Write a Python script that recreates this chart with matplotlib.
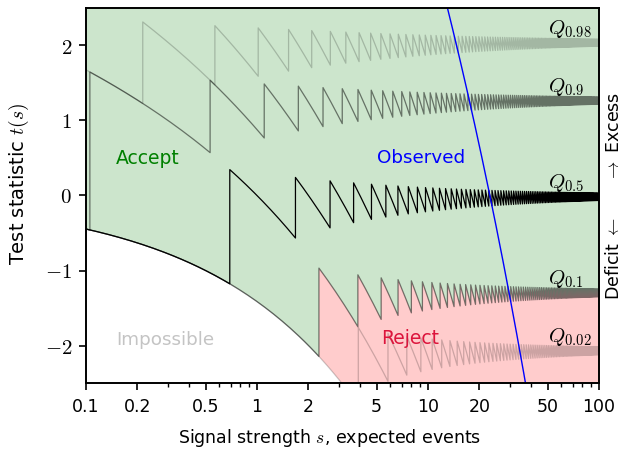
import math
import numpy as np
import matplotlib
matplotlib.use("Agg")
import matplotlib.pyplot as plt

# ---- data ----
quantile_levels = [0.02, 0.1, 0.5, 0.9, 0.98]
quantile_labels = [r"$Q_{0.02}$", r"$Q_{0.1}$", r"$Q_{0.5}$", r"$Q_{0.9}$", r"$Q_{0.98}$"]
quantile_label_y = [-2.054, -1.282, 0.0, 1.282, 2.054]
quantile_alpha = [0.2, 0.5, 1.0, 0.5, 0.2]
n_observed = 23
s_range = [0.1, 100.0]
t_range = [-2.5, 2.5]
x_ticks = [0.1, 0.2, 0.5, 1, 2, 5, 10, 20, 50, 100]
x_tick_labels = ["0.1", "0.2", "0.5", "1", "2", "5", "10", "20", "50", "100"]
y_ticks = [-2, -1, 0, 1, 2]

plt.rcParams["font.family"] = ["DejaVu Sans"]
plt.rcParams["mathtext.fontset"] = "cm"
plt.rcParams["font.size"] = 12


def t_stat(n, s):
    n = np.asarray(n, dtype=float)
    s = np.asarray(s, dtype=float)
    with np.errstate(divide="ignore", invalid="ignore"):
        nlog = np.where(n > 0, n * np.log(np.where(n > 0, n, 1.0) / s), 0.0)
    d = np.maximum(2.0 * (nlog - n + s), 0.0)
    return np.sign(n - s) * np.sqrt(d)


def pois_cdf(n, s):
    n = np.asarray(n)
    s = np.asarray(s, dtype=float)
    term = np.exp(-s)
    cdf = term.copy()
    for k in range(1, int(n.max()) + 1):
        term = term * s / k
        cdf = cdf + np.where(k <= n, term, 0.0)
    return cdf


def jump_points(p, nmax=170):
    n = np.arange(nmax + 1)
    lo = np.full(n.shape, 1e-9)
    hi = np.full(n.shape, 400.0)
    for _ in range(70):
        mid = 0.5 * (lo + hi)
        f = pois_cdf(n, mid)
        above = f >= p
        lo = np.where(above, mid, lo)
        hi = np.where(above, hi, mid)
    return 0.5 * (lo + hi)


def quantile_curve(p):
    sj = jump_points(p)
    bounds = np.concatenate([[0.0], sj])
    xs, ys = [], []
    for n in range(len(sj)):
        a = max(bounds[n], s_range[0])
        b = min(bounds[n + 1], s_range[1])
        if b <= a:
            continue
        m = max(2, int(60 * math.log(b / a) / math.log(10)) + 2)
        ss = np.geomspace(a, b, m)
        xs.append(ss)
        ys.append(t_stat(n, ss))
    return np.concatenate(xs), np.concatenate(ys)


fig = plt.figure(figsize=(6.26, 4.49), dpi=100)
ax = fig.add_axes([86 / 626, 1 - 383 / 449, 513 / 626, 375 / 449])
ax.set_xscale("log")

curves = {p: quantile_curve(p) for p in quantile_levels}

# regions
xq, yq = curves[0.1]
ax.fill_between(xq, yq, 10, color="green", alpha=0.2, linewidth=0)
ax.fill_between(xq, t_stat(0, xq), yq, color="red", alpha=0.2, linewidth=0)

for p, a in zip(quantile_levels, quantile_alpha):
    x, y = curves[p]
    ax.plot(x, y, color="black", alpha=a, lw=0.9)

for lab, yl in zip(quantile_labels, quantile_label_y):
    ax.text(50, yl + 0.02, lab, ha="left", va="bottom", fontsize=15)

so = np.geomspace(s_range[0], s_range[1], 2000)
ax.plot(so, t_stat(n_observed, so), color="blue", lw=1.0)

ax.text(0.15, 0.5, "Accept", color="green", va="center", ha="left", fontsize=13.5)
ax.text(5.0, 0.5, "Observed", color="blue", va="center", ha="left", fontsize=13.2)
ax.text(0.15, -1.93, "Impossible", color="#c4c4c4", va="center", ha="left", fontsize=13.2)
ax.text(5.3, -1.91, "Reject", color="crimson", va="center", ha="left", fontsize=13.5)

ax.set_xlim(*s_range)
ax.set_ylim(*t_range)
ax.set_xticks(x_ticks)
ax.set_xticklabels(x_tick_labels, fontsize=12.5)
ax.set_yticks(y_ticks)
ax.set_yticklabels([f"${v}$" for v in y_ticks], fontsize=15)
ax.tick_params(axis="x", which="major", length=5, width=1.2, pad=6)
ax.tick_params(axis="y", which="major", length=5, width=1.2, pad=5)
ax.tick_params(which="minor", length=3, width=1.0)
for sp in ax.spines.values():
    sp.set_linewidth(1.4)

ax.set_xlabel(r"Signal strength $s$, expected events", fontsize=12.5)
ax.xaxis.set_label_coords(0.474, -0.118)
ax.set_ylabel(r"Test statistic $t(s)$", fontsize=14)
ax.yaxis.set_label_coords(-0.107, 0.53)
ax.text(1.03, 0.5, r"Deficit $\leftarrow$      $\rightarrow$ Excess", transform=ax.transAxes,
        rotation=90, ha="center", va="center", fontsize=12.5)

fig.savefig("out.png", dpi=100)
